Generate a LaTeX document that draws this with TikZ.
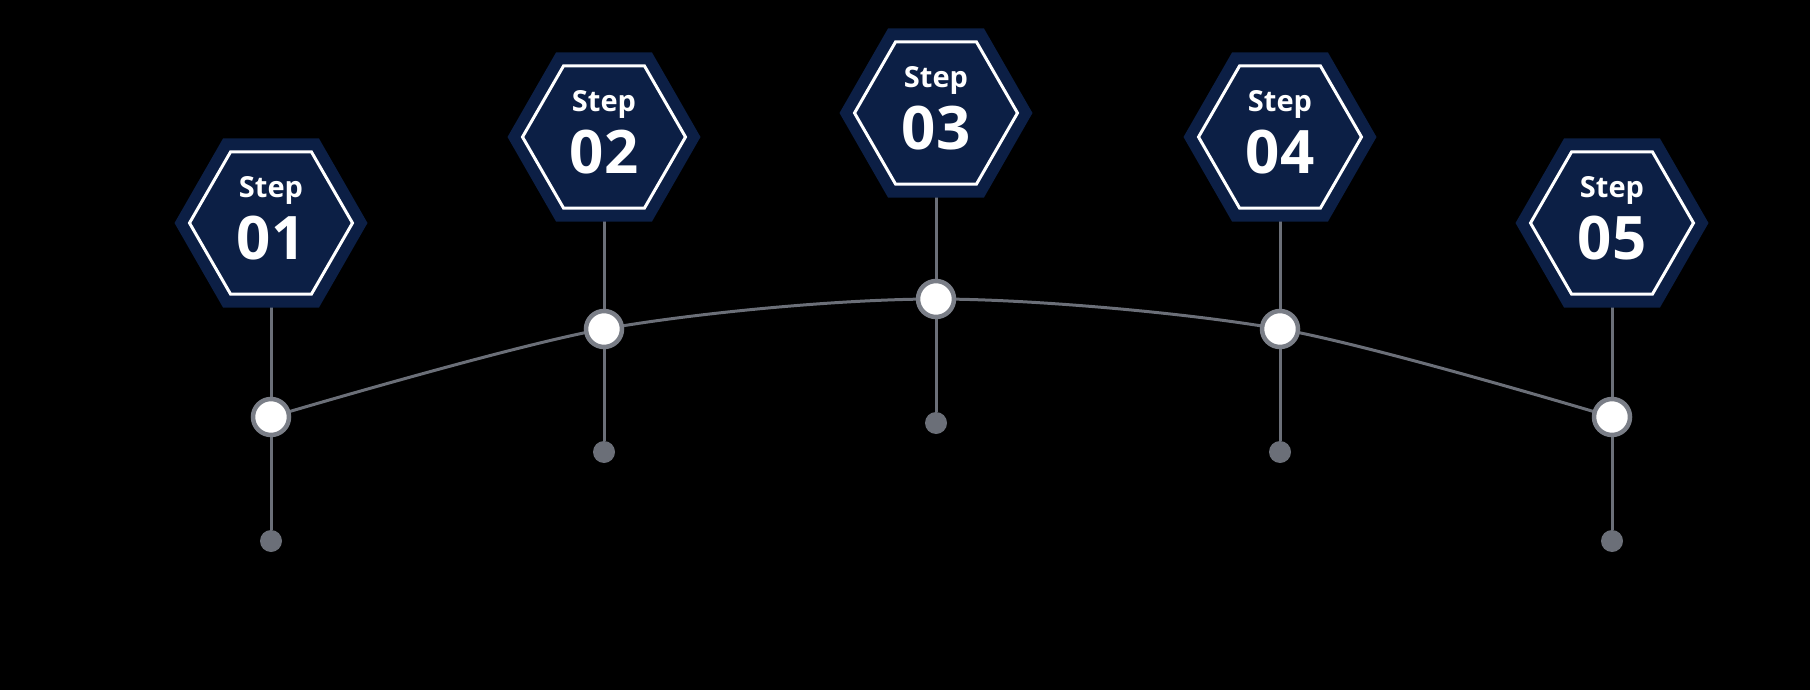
\documentclass[tikz,border=0pt]{standalone}
\usepackage{fontspec}
\setmainfont{Open Sans}
\usetikzlibrary{calc}
\begin{document}
\begin{tikzpicture}[x=1pt,y=-1pt,
  conn/.style={draw=linegrey,line width=3pt},
  hexout/.style={fill=navy},
  hexin/.style={draw=white,line width=3pt},
  knob/.style={circle,fill=white,draw=ringgrey,line width=4.5pt,minimum size=36pt,inner sep=0pt},
  enddot/.style={circle,fill=linegrey,minimum size=22pt,inner sep=0pt},
  lbl/.style={text=white,font=\bfseries,align=center,inner sep=0pt}]
\definecolor{navy}{HTML}{0C1F45}
\definecolor{linegrey}{HTML}{6B6F78}
\definecolor{ringgrey}{HTML}{7A7E87}
\fill[black] (0,0) rectangle (1810,690);
\useasboundingbox (0,0) rectangle (1810,690);
% curve
\draw[conn] plot[smooth] coordinates {(271,417) (604,329) (936,299) (1280,329) (1612,417)};
\foreach \i/\x/\hy/\cy/\dy in {1/271/223/417/541,2/604/137/329/452,3/936/113/299/423,4/1280/137/329/452,5/1612/223/417/541}{
  \coordinate (h\i) at (\x,\hy);
  \node[enddot] (d\i) at (\x,\dy) {};
  \draw[conn] (h\i) -- (d\i);
  \fill[navy] ($(h\i)+(-96.5,0)$) -- ++(48.5,-84.5) -- ++(96,0) -- ++(48.5,84.5) -- ++(-48.5,84.5) -- ++(-96,0) -- cycle;
  \draw[hexin] ($(h\i)+(-81.5,0)$) -- ++(41,-71) -- ++(81,0) -- ++(41,71) -- ++(-41,71) -- ++(-81,0) -- cycle;
  \node[lbl] (t\i) at ($(h\i)+(0,-33)$) {\fontsize{29}{30}\selectfont Step};
  \node[lbl] (n\i) at ($(h\i)+(0,15)$) {\fontsize{60}{60}\selectfont 0\i};
  \node[knob] (c\i) at (\x,\cy) {};
}
\end{tikzpicture}
\end{document}
